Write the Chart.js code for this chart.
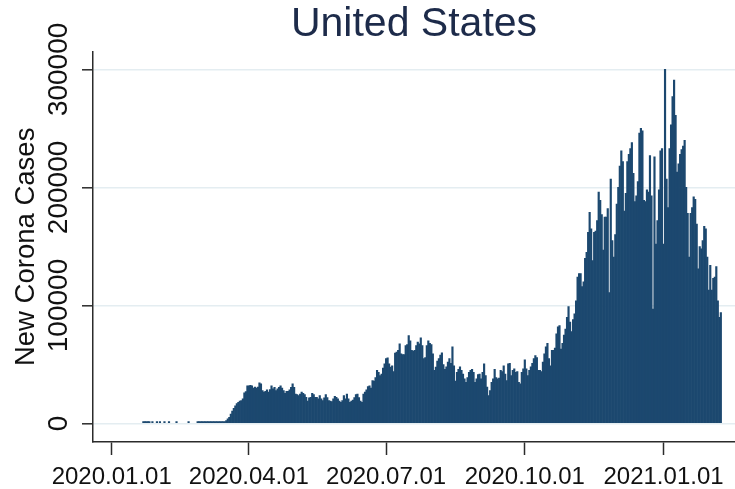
<!DOCTYPE html>
<html>
<head>
<meta charset="utf-8">
<title>United States</title>
<script src="https://cdn.jsdelivr.net/npm/chart.js@4.4.1/dist/chart.umd.min.js"></script>
<style>
  html, body { margin: 0; padding: 0; background: #fff; }
  #wrap { width: 735px; height: 489px; }
</style>
</head>
<body>
<div id="wrap"><canvas id="casesChart" width="735" height="489"></canvas></div>
<script>
// daily new cases, one array per month (first entry = 1st of the month), null = no report
const jan2020 = [null, null, null, null, null, null, null, null, null, null, null, null, null, null, null, null, null, null, null, null, null,
  1, 1, 1, 1, 3, null, 1, null, null, 2];
const feb2020 = [null, 1, null, null, 1, null, null, 1, null, null, null, null, 1, null, null, null, null, null, null, null,
  2, null, null, null, null, null, 1, 1, 6];
const mar2020 = [13, 23, 20, 31, 68, 45, 140, 116, 165, 376, 322, 382, 516, 548, 772, 1500,
  2500, 4000, 5400, 8000, 10500, 13000, 15000, 17000, 18000, 19000, 19500, 21000, 26000, 27000, 32000];
const apr2020 = [32000, 32500, 32000, 30000, 31000, 30000, 31000, 34500, 33600, 28000, 26600, 27400, 28500, 26600, 28800,
  32000, 29400, 30800, 28000, 29400, 30800, 32000, 30000, 28000, 25700, 27400, 27400, 28500, 30800, 33600];
const may2020 = [30800, 25000, 24600, 23700, 25000, 26600, 25700, 24600, 22300, 19000, 21800, 22300, 25700, 24600, 22300,
  22300, 21000, 23700, 21000, 19500, 21800, 24500, 22000, 19500, 19000, 18700, 21000, 23000, 22300, 21000, 19000];
const jun2020 = [18000, 19500, 23700, 21000, 25000, 21000, 18000, 19000, 20000, 22000, 24600, 25000, 22000, 19000, 18000,
  25000, 26600, 28500, 31400, 32000, 30000, 36500, 36000, 39000, 45000, 43500, 40700, 42000, 47000, 50600];
const jul2020 = [55000, 55700, 50600, 47800, 49000, 44000, 59700, 60500, 62000, 67600, 59000, 58500, 58500, 66000, 67000,
  74600, 70000, 62000, 61400, 62000, 66000, 69000, 67600, 72700, 66000, 55000, 56000, 66000, 70000, 68000, 67000];
const aug2020 = [59000, 45000, 47800, 53000, 55000, 58000, 60000, 50000, 46000, 48000, 52000, 55000, 51000, 65000, 49000,
  36000, 43500, 46000, 48000, 45000, 42000, 38000, 35000, 39000, 43500, 45000, 46000, 43500, 35000, 38000, 41500];
const sep2020 = [42000, 38000, 43500, 50600, 40700, 31000, 23700, 28000, 35000, 38000, 46000, 39000, 38000, 38500, 45000,
  44000, 49000, 42000, 36500, 50600, 51000, 40700, 45000, 46400, 43500, 44000, 35000, 33600, 43500, 46400];
const oct2020 = [54000, 46400, 40700, 45000, 48000, 51000, 55000, 57700, 56000, 45000, 45000, 44000, 52000, 59000, 65000,
  68000, 55000, 49000, 62000, 62000, 64000, 76000, 82000, 83000, 63000, 68000, 75000, 80000, 90000, 99000, 86000];
const nov2020 = [78000, 88000, 93000, 104000, 124000, 127000, 127000, 116000, 120000, 140000, 145000, 162000, 179000, 165000, 138000,
  162000, 163000, 172000, 196000, 189000, 177000, 147000, 175000, 175000, 182000, 111000, 207000, 155000, 141000, 160000];
const dec2020 = [186000, 200000, 218000, 231000, 222000, 180000, 195000, 222000, 228000, 233000, 238000, 212000, 188000, 193000, 205000,
  246000, 250000, 248000, 189000, 188000, 198000, 196000, 227000, 193000, 97000, 226000, 152000, 172000, 198000, 231000, 233000];
const jan2021 = [152000, 300000, 207000, 183000, 233000, 253000, 277000, 291000, 261000, 213000, 220000, 228000, 232000, 235000, 240000,
  200000, 178000, 141000, 178000, 183000, 192000, 190000, 169000, 131000, 150000, 148000, 155000, 167000, 165000, 141000, 113000];
const feb2021 = [134000, 113000, 123000, 124000, 133000, 104000, 90000, 94000];

const monthKeys = ['2020-01', '2020-02', '2020-03', '2020-04', '2020-05', '2020-06', '2020-07',
  '2020-08', '2020-09', '2020-10', '2020-11', '2020-12', '2021-01', '2021-02'];
const monthValues = [jan2020, feb2020, mar2020, apr2020, may2020, jun2020, jul2020,
  aug2020, sep2020, oct2020, nov2020, dec2020, jan2021, feb2021];

const tickDates = ['2020.01.01', '2020.04.01', '2020.07.01', '2020.10.01', '2021.01.01'];
const yTicks = [0, 100000, 200000, 300000];

const FONT = "'Liberation Sans', Arial, Helvetica, sans-serif";
const DAY = 86400000;
const origin = Date.UTC(2020, 0, 1);

function dayOf(y, m, d) { return Math.round((Date.UTC(y, m - 1, d) - origin) / DAY); }

// build {x: day number, y: cases}
const points = [];
monthKeys.forEach((key, i) => {
  const [yy, mm] = key.split('-').map(Number);
  monthValues[i].forEach((v, d) => {
    if (v !== null) points.push({ x: dayOf(yy, mm, d + 1), y: v });
  });
});

const tickDays = tickDates.map(s => {
  const [yy, mm, dd] = s.split('.').map(Number);
  return dayOf(yy, mm, dd);
});

// vertical y tick labels, Stata style
const yLabelPlugin = {
  id: 'yLabels',
  afterDraw(chart) {
    const scale = chart.scales.y;
    const ctx = chart.ctx;
    ctx.save();
    ctx.font = '28px ' + FONT;
    ctx.fillStyle = '#111';
    ctx.textAlign = 'center';
    ctx.textBaseline = 'middle';
    scale.ticks.forEach(t => {
      const py = scale.getPixelForValue(t.value);
      ctx.save();
      ctx.translate(59, py);
      ctx.rotate(-Math.PI / 2);
      ctx.fillText(String(t.value), 0, 0);
      ctx.restore();
    });
    ctx.restore();
  }
};

new Chart(document.getElementById('casesChart').getContext('2d'), {
  type: 'bar',
  data: {
    datasets: [{
      label: 'New Corona Cases',
      data: points,
      backgroundColor: '#1c486f',
      borderWidth: 0,
      barPercentage: 1,
      categoryPercentage: 1,
      minBarLength: 2
    }]
  },
  options: {
    responsive: false,
    animation: false,
    layout: { padding: 0 },
    plugins: {
      legend: { display: false },
      tooltip: { enabled: false },
      title: {
        display: true,
        text: 'United States',
        fullSize: false,
        color: '#1d2b4a',
        font: { family: FONT, size: 41, weight: 'normal', lineHeight: 1.07 },
        padding: { top: 2.5, bottom: 5.3 }
      }
    },
    scales: {
      x: {
        type: 'linear',
        offset: false,
        min: -12.4,
        max: 413.4,
        afterBuildTicks: s => { s.ticks = tickDays.map(v => ({ value: v })); },
        afterFit: s => { s.height = 47; },
        ticks: {
          autoSkip: false,
          maxRotation: 0,
          padding: 8,
          color: '#111',
          font: { family: FONT, size: 24 },
          callback: v => tickDates[tickDays.indexOf(v)]
        },
        grid: {
          offset: false,
          drawOnChartArea: false,
          drawTicks: true,
          tickLength: 13,
          tickWidth: 1.5,
          tickColor: '#2b2b2b'
        },
        border: { display: true, color: '#2b2b2b', width: 1.5 }
      },
      y: {
        min: -15600,
        max: 315000,
        afterBuildTicks: s => { s.ticks = yTicks.map(v => ({ value: v })); },
        afterFit: s => { s.width = 93; },
        ticks: { display: false },
        grid: {
          color: '#e4edf1',
          lineWidth: 1.6,
          drawTicks: true,
          tickLength: 11,
          tickWidth: 1.5,
          tickColor: '#2b2b2b'
        },
        border: { display: true, color: '#2b2b2b', width: 1.5 },
        title: {
          display: true,
          text: 'New Corona Cases',
          color: '#111',
          font: { family: FONT, size: 27.5, lineHeight: 1.2 },
          padding: { top: 9.5, bottom: 0 }
        }
      }
    }
  },
  plugins: [yLabelPlugin]
});
</script>
</body>
</html>
